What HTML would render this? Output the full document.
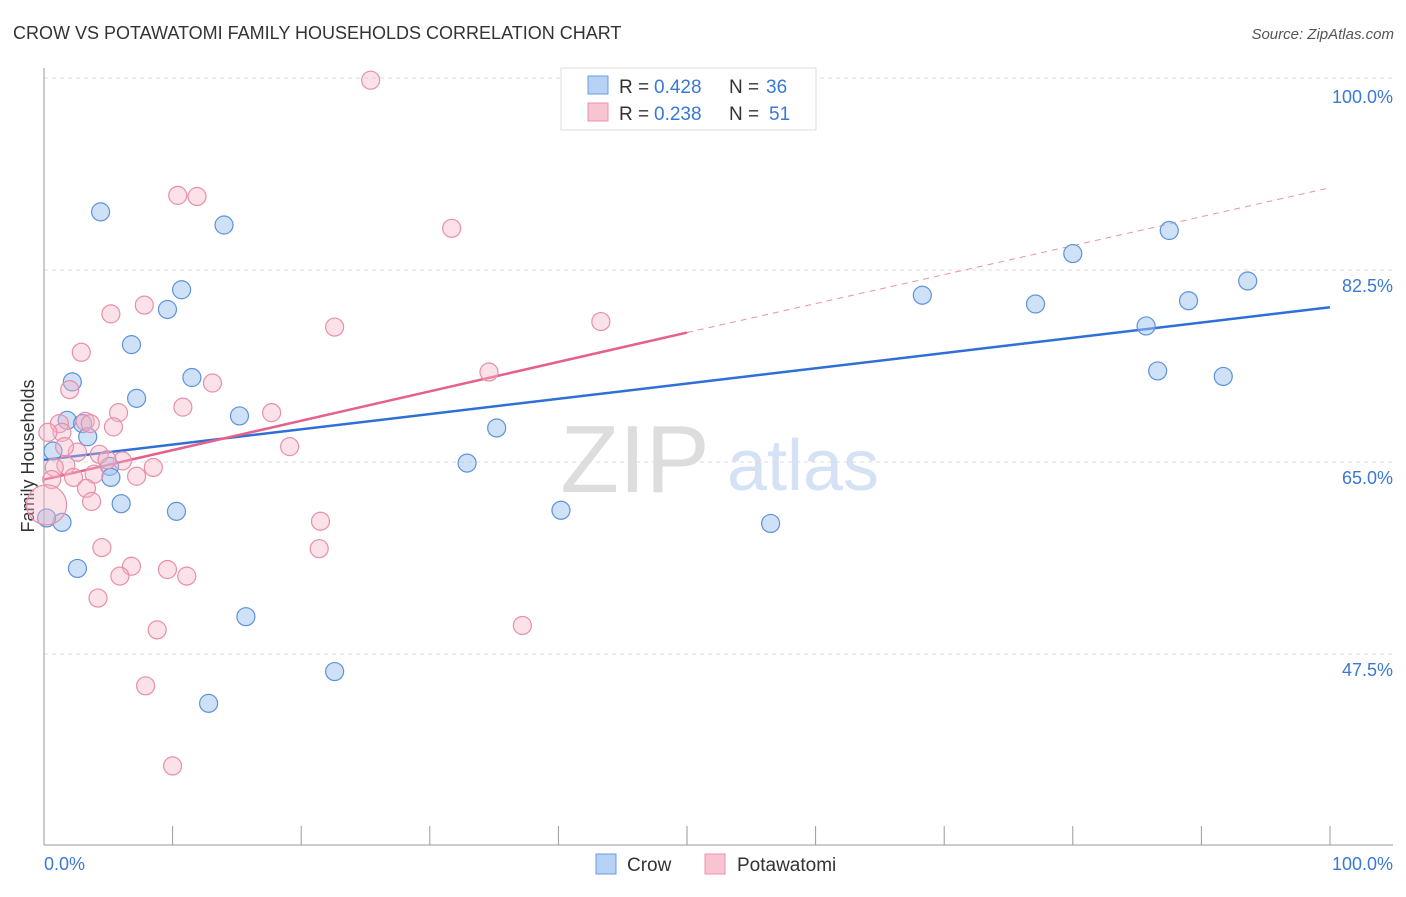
<!DOCTYPE html>
<html><head><meta charset="utf-8"><style>
body{margin:0;background:#fff;font-family:"Liberation Sans",sans-serif;}
svg text{font-family:"Liberation Sans",sans-serif;}
</style></head><body>
<svg id="chart" width="1406" height="892">
<text x="13" y="39" font-size="18" fill="#333">CROW VS POTAWATOMI FAMILY HOUSEHOLDS CORRELATION CHART</text>
<text x="1394" y="39" font-size="15" fill="#555" font-style="italic" text-anchor="end">Source: ZipAtlas.com</text>
<text x="34" y="456" font-size="18" fill="#333" transform="rotate(-90 34 456)" text-anchor="middle">Family Households</text>
<text x="635" y="492" font-size="96" fill="#ddd" font-family="Liberation Serif" text-anchor="middle">ZIP</text>
<text x="803" y="490" font-size="72" fill="#d5e2f5" text-anchor="middle">atlas</text>
<g id="grid"></g><g id="axes"></g><g id="lines"></g><g id="pts"></g>
<g>
<rect x="561" y="68" width="255" height="62" fill="#fff" stroke="#ddd"/>
<rect x="588" y="76" width="20" height="18" fill="#b7d2f5" stroke="#6a9be0"/>
<rect x="588" y="103" width="20" height="18" fill="#f9c4d2" stroke="#e995ad"/>
<text x="619" y="93" font-size="19" fill="#333">R =</text><text x="654" y="93" font-size="19" fill="#3a78d8">0.428</text>
<text x="729" y="93" font-size="19" fill="#333">N =</text><text x="766" y="93" font-size="19" fill="#3a78d8">36</text>
<text x="619" y="120" font-size="19" fill="#333">R =</text><text x="654" y="120" font-size="19" fill="#3a78d8">0.238</text>
<text x="729" y="120" font-size="19" fill="#333">N =</text><text x="769" y="120" font-size="19" fill="#3a78d8">51</text>
</g>
<g>
<rect x="596" y="854" width="20" height="20" fill="#b7d2f5" stroke="#6a9be0"/>
<text x="627" y="871" font-size="19" fill="#333">Crow</text>
<rect x="705" y="854" width="20" height="20" fill="#f9c4d2" stroke="#e995ad"/>
<text x="737" y="871" font-size="19" fill="#333">Potawatomi</text>
</g>
</svg>
<script>
const yTicks=[47.5,65.0,82.5,100.0];
const yTickLabels=["47.5%","65.0%","82.5%","100.0%"];
const xLabels=["0.0%","100.0%"];
const crowX=[4.4,14.0,10.7,9.6,6.8,2.2,11.5,7.2,15.2,1.8,3.0,3.4,0.7,5.1,5.2,6.0,10.3,1.4,0.2,2.6,15.7,22.6,12.8,32.9,35.2,40.2,56.5,68.3,77.1,80.0,87.5,85.7,89.0,86.6,91.7,93.6];
const crowY=[87.8,86.6,80.7,78.9,75.7,72.3,72.7,70.8,69.2,68.8,68.5,67.3,66.0,64.6,63.6,61.2,60.5,59.5,59.9,55.3,50.9,45.9,43.0,64.9,68.1,60.6,59.4,80.2,79.4,84.0,86.1,77.4,79.7,73.3,72.8,81.5];
const potX=[25.4,10.4,11.9,31.7,5.2,7.8,22.6,43.3,2.9,13.1,2.0,10.8,5.8,17.7,34.6,1.2,3.2,3.6,5.4,1.4,2.6,1.6,19.1,4.3,6.1,4.9,1.7,0.8,8.5,7.2,3.9,2.3,0.6,3.3,3.7,0.2,21.5,4.5,21.4,6.8,9.6,5.9,11.1,4.2,8.8,37.2,7.9,10.0,0.3];
const potY=[99.8,89.3,89.2,86.3,78.5,79.3,77.3,77.8,75.0,72.2,71.6,70.0,69.5,69.5,73.2,68.5,68.7,68.5,68.2,67.7,65.9,66.4,66.4,65.7,65.1,65.2,64.7,64.5,64.5,63.7,63.9,63.6,63.4,62.6,61.4,61.1,59.6,57.2,57.1,55.5,55.2,54.6,54.6,52.6,49.7,50.1,44.6,37.3,67.7];
const crowTrend=[65.2,79.1];
const potTrend=[63.4,76.8,90.0];
const NS="http://www.w3.org/2000/svg";
const X=v=>44+v*12.86, Y=v=>78+(100-v)/17.5*192;
function mk(p,t,a){const e=document.createElementNS(NS,t);for(const k in a)e.setAttribute(k,a[k]);document.getElementById(p).appendChild(e);return e;}
yTicks.forEach((t,i)=>{
 const l=mk('grid','line',{x1:44,x2:1393,y1:Y(t),y2:Y(t),stroke:'#ddd','stroke-dasharray':'4,4'});
 
 
 const tx=mk('grid','text',{x:1393,y:Y(t)+(t==100?25:22),'font-size':18,fill:'#3a78d8','text-anchor':'end'});
 tx.textContent=yTickLabels[i];
 
 
});
mk('axes','line',{x1:44,x2:44,y1:68,y2:845,stroke:'#999'});
mk('axes','line',{x1:44,x2:1393,y1:845,y2:845,stroke:'#999'});
for(let k=1;k<=10;k++){const t=mk('axes','line',{x1:X(k*10),x2:X(k*10),y1:826,y2:845,stroke:'#999'});
 
 }
const xl0=mk('axes','text',{x:44,y:870,'font-size':18,fill:'#3a78d8'});xl0.textContent=xLabels[0];


const xl1=mk('axes','text',{x:1393,y:870,'font-size':18,fill:'#3a78d8','text-anchor':'end'});xl1.textContent=xLabels[1];


crowX.forEach((x,i)=>{const c=mk('pts','circle',{cx:X(x),cy:Y(crowY[i]),r:9,fill:'rgba(160,196,240,0.5)',stroke:'#5d92dc','stroke-width':1.2});
 
 });
potX.forEach((x,i)=>{const c=mk('pts','circle',{cx:X(x),cy:Y(potY[i]),r:(i==35?20:9),fill:'rgba(246,180,198,0.4)',stroke:'#e78fa9','stroke-width':1.2});
 
 });
const bl=mk('lines','line',{x1:X(0),y1:Y(crowTrend[0]),x2:X(100),y2:Y(crowTrend[1]),stroke:'#2f6fd6','stroke-width':2.5});


const pl=mk('lines','line',{x1:X(0),y1:Y(potTrend[0]),x2:X(50),y2:Y(potTrend[1]),stroke:'#e5608d','stroke-width':2.5});


const pd=mk('lines','line',{x1:X(50),y1:Y(potTrend[1]),x2:X(100),y2:Y(potTrend[2]),stroke:'#e892ad','stroke-width':1,'stroke-dasharray':'6,5'});


</script>
</body></html>
